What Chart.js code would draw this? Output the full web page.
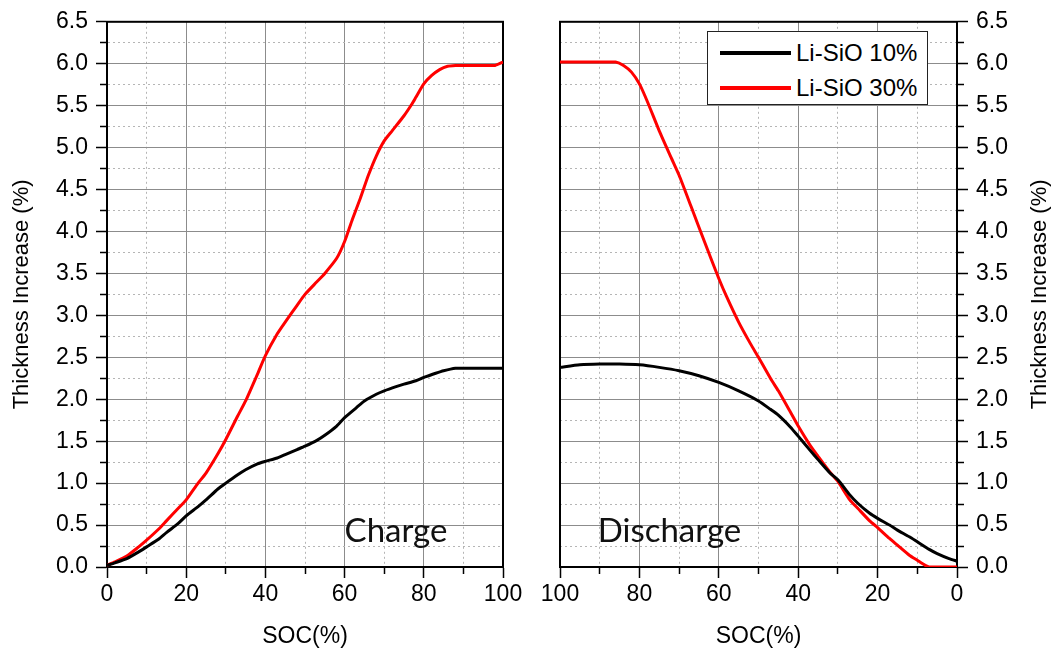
<!DOCTYPE html>
<html>
<head>
<meta charset="utf-8">
<script src="https://cdn.jsdelivr.net/npm/chart.js@4"></script>
<style>
  body { margin: 0; background: #fff; }
  #wrap { position: relative; width: 1052px; height: 656px; overflow: hidden; }
  .panel { position: absolute; top: 0; height: 656px; }
  #left { left: 0; width: 530px; }
  #right { left: 530px; width: 522px; }
  #legend {
    position: absolute; left: 707px; top: 31px; width: 219px; height: 72px;
    border: 1.5px solid #222; background: #fff;
    font: 24px "Liberation Sans", Arial, sans-serif; color: #000;
  }
  .item { position: absolute; left: 0; height: 30px; display: flex; align-items: center; }
  .swatch { width: 71px; height: 4px; margin-left: 12px; margin-right: 5px; }
</style>
</head>
<body>
<div id="wrap">
  <div class="panel" id="left"><canvas id="charge"></canvas></div>
  <div class="panel" id="right"><canvas id="discharge"></canvas></div>
  <div id="legend"></div>
</div>
<script>
const seriesNames = ["Li-SiO 10%", "Li-SiO 30%"];
const seriesColors = ["#000000", "#ff0000"];

// charge, Li-SiO 10%
const chargeSoc10 = [0, 2, 5, 8, 10, 13, 15, 18, 20, 23, 25, 28, 30, 33, 35, 38, 40, 43, 45, 48, 50, 53, 55, 58, 60, 63, 65, 68, 70, 73, 75, 78, 80, 83, 85, 88, 90, 95, 100];
const chargeThk10 = [0.02, 0.05, 0.1, 0.18, 0.24, 0.33, 0.41, 0.52, 0.61, 0.72, 0.8, 0.93, 1.0, 1.1, 1.16, 1.23, 1.26, 1.3, 1.34, 1.4, 1.44, 1.51, 1.57, 1.68, 1.78, 1.9, 1.98, 2.06, 2.1, 2.15, 2.18, 2.22, 2.26, 2.31, 2.34, 2.37, 2.37, 2.37, 2.37];

// charge, Li-SiO 30%
const chargeSoc30 = [0, 2, 5, 8, 10, 13, 15, 18, 20, 23, 25, 28, 30, 33, 35, 38, 40, 43, 45, 48, 50, 53, 55, 58, 60, 62, 64, 66, 68, 70, 72, 75, 77, 78, 80, 82, 84, 86, 88, 90, 95, 98, 100];
const chargeThk30 = [0.02, 0.06, 0.13, 0.24, 0.32, 0.45, 0.55, 0.7, 0.8, 1.0, 1.12, 1.35, 1.52, 1.8, 1.98, 2.3, 2.52, 2.78, 2.92, 3.12, 3.25, 3.4, 3.5, 3.68, 3.88, 4.15, 4.4, 4.67, 4.9, 5.08, 5.2, 5.38, 5.52, 5.6, 5.76, 5.86, 5.93, 5.97, 5.98, 5.98, 5.98, 5.98, 6.02];

// discharge, Li-SiO 10%
const dischSoc10 = [100, 95, 90, 85, 80, 75, 70, 65, 60, 55, 50, 47, 45, 42, 40, 37, 35, 32, 30, 27, 25, 22, 20, 17, 15, 12, 10, 7, 5, 2, 0];
const dischThk10 = [2.38, 2.41, 2.42, 2.42, 2.41, 2.38, 2.34, 2.28, 2.2, 2.1, 1.98, 1.88, 1.81, 1.67, 1.56, 1.39, 1.28, 1.12, 1.04, 0.86, 0.76, 0.64, 0.58, 0.5, 0.44, 0.36, 0.3, 0.21, 0.16, 0.1, 0.07];

// discharge, Li-SiO 30%
const dischSoc30 = [100, 95, 90, 86, 84, 82, 80, 78, 75, 72, 70, 67, 65, 62, 60, 58, 55, 52, 50, 47, 45, 42, 40, 37, 35, 32, 30, 27, 25, 22, 20, 17, 15, 12, 10, 8, 7, 5, 0];
const dischThk30 = [6.02, 6.02, 6.02, 6.02, 5.98, 5.9, 5.76, 5.55, 5.2, 4.88, 4.67, 4.3, 4.05, 3.68, 3.44, 3.22, 2.92, 2.66, 2.5, 2.25, 2.1, 1.85, 1.68, 1.45, 1.32, 1.13, 1.02, 0.8, 0.7, 0.55, 0.47, 0.34, 0.26, 0.14, 0.08, 0.02, 0.0, 0.0, 0.0];

const FONT = '"Liberation Sans", Arial, sans-serif';

const toPoints = (xs, ys) => xs.map((x, i) => ({ x: x, y: ys[i] }));

// minor ticks: dashed grid, shorter tick mark
const isMinor = (c, major) => c.tick && Math.abs(c.tick.value / major - Math.round(c.tick.value / major)) > 1e-6;

const gridOpts = (major, minorDash) => ({
  color: (c) => (isMinor(c, major) ? "#b5b5b5" : "#8c8c8c"),
  lineWidth: 1,
  tickLength: 11,
  tickColor: "#000",
  tickWidth: 1.5,
  tickBorderDash: (c) => (isMinor(c, major) ? minorDash : []),
});

const borderOpts = (major) => ({
  color: "#000",
  width: 2,
  dash: (c) => (isMinor(c, major) ? [2, 3] : []),
});

const xScale = (reverse) => ({
  type: "linear",
  min: 0,
  max: 100,
  reverse: reverse,
  ticks: {
    stepSize: 10,
    autoSkip: false,
    maxRotation: 0,
    padding: 3,
    color: "#000",
    font: { family: FONT, size: 23 },
    callback: (v) => (v % 20 === 0 ? String(v) : ""),
  },
  grid: gridOpts(20, [6, 100]),
  border: borderOpts(20),
  title: {
    display: true,
    text: "SOC(%)",
    color: "#000",
    font: { family: FONT, size: 23 },
    padding: { top: 0, bottom: 6 },
  },
  afterFit: (s) => { s.height = 89; },
});

const yScale = (position, width) => ({
  type: "linear",
  position: position,
  min: 0,
  max: 6.5,
  ticks: {
    stepSize: 0.25,
    autoSkip: false,
    padding: 8,
    color: "#000",
    font: { family: FONT, size: 23 },
    callback: (v) => (Math.abs(v * 2 - Math.round(v * 2)) < 1e-6 ? v.toFixed(1) : ""),
  },
  grid: gridOpts(0.5, position === "left" ? [0, 4, 6, 100] : [6, 100]),
  border: borderOpts(0.5),
  title: {
    display: position === "left",
    text: "Thickness Increase (%)",
    color: "#000",
    font: { family: FONT, size: 22 },
    padding: { top: 9, bottom: 0 },
  },
  afterFit: (s) => { s.width = width; },
});

// frame round the plot area, panel label and (right panel) rotated axis title
const decor = (label, labelX, rightTitle) => ({
  id: "decor",
  beforeDatasetsDraw(chart) {
    const { ctx, chartArea: a } = chart;
    ctx.save();
    ctx.strokeStyle = "#000";
    ctx.lineWidth = 2;
    ctx.strokeRect(a.left, a.top, a.right - a.left, a.bottom - a.top);
    ctx.restore();
  },
  afterDraw(chart) {
    const { ctx, chartArea: a, scales } = chart;
    ctx.save();
    ctx.fillStyle = "#111";
    ctx.font = '33px Lato, "Open Sans", sans-serif';
    ctx.textAlign = "left";
    ctx.textBaseline = "alphabetic";
    ctx.fillText(label, scales.x.getPixelForValue(labelX), scales.y.getPixelForValue(0.3));
    if (rightTitle) {
      ctx.translate(chart.width - 12, (a.top + a.bottom) / 2);
      ctx.rotate(-Math.PI / 2);
      ctx.font = "22px " + FONT;
      ctx.fillStyle = "#000";
      ctx.textAlign = "center";
      ctx.textBaseline = "middle";
      ctx.fillText(rightTitle, 0, 0);
    }
    ctx.restore();
  },
});

const makeChart = (id, series, reverse, yPos, yWidth, padding, plugin) =>
  new Chart(id, {
    type: "line",
    data: {
      datasets: series.map((s, i) => ({
        label: seriesNames[i],
        data: s,
        borderColor: seriesColors[i],
        backgroundColor: seriesColors[i],
        borderWidth: 3,
        pointRadius: 0,
        tension: 0.2,
        fill: false,
      })),
    },
    options: {
      responsive: true,
      maintainAspectRatio: false,
      animation: false,
      layout: { padding: padding },
      plugins: { legend: { display: false }, tooltip: { enabled: false } },
      scales: { x: xScale(reverse), y: yScale(yPos, yWidth) },
    },
    plugins: [plugin],
  });

makeChart(
  "charge",
  [toPoints(chargeSoc10, chargeThk10), toPoints(chargeSoc30, chargeThk30)],
  false, "left", 107,
  { top: 19, right: 27, left: 0, bottom: 0 },
  decor("Charge", 60, null)
);

makeChart(
  "discharge",
  [toPoints(dischSoc10, dischThk10), toPoints(dischSoc30, dischThk30)],
  true, "right", 95,
  { top: 19, right: 0, left: 30, bottom: 0 },
  decor("Discharge", 90.5, "Thickness Increase (%)")
);

// legend box
const legend = document.getElementById("legend");
seriesNames.forEach((name, i) => {
  const row = document.createElement("div");
  row.className = "item";
  row.style.top = (6 + i * 35) + "px";
  const sw = document.createElement("span");
  sw.className = "swatch";
  sw.style.background = seriesColors[i];
  const tx = document.createElement("span");
  tx.textContent = name;
  row.appendChild(sw);
  row.appendChild(tx);
  legend.appendChild(row);
});
</script>
</body>
</html>
